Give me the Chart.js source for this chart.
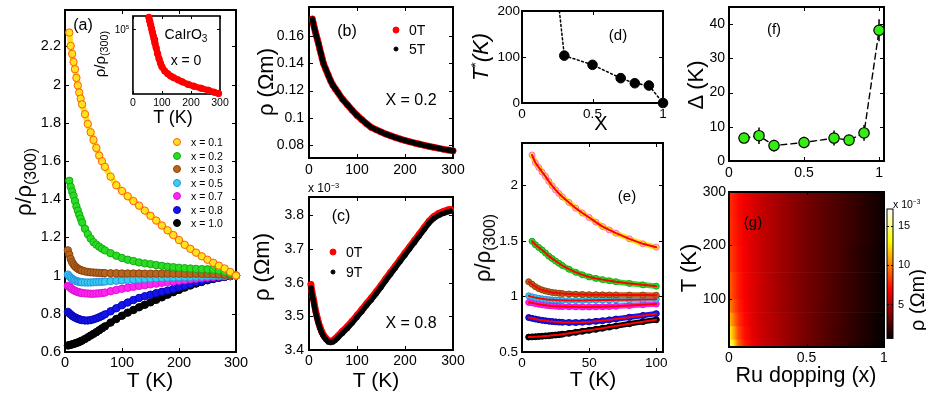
<!DOCTYPE html>
<html>
<head>
<meta charset="utf-8">
<script src="https://cdn.jsdelivr.net/npm/chart.js@4.4.1/dist/chart.umd.min.js"></script>
<style>
  body { margin:0; background:#fff; width:926px; height:394px; position:relative; overflow:hidden;
         font-family:"Liberation Sans", Arial, sans-serif; color:#000; }
  canvas { position:absolute; }
  .t { position:absolute; white-space:nowrap; line-height:1; transform:translate(-50%,-50%); }
  .t.l { transform:translate(0,-50%); }
  .t.r { transform:translate(-50%,-50%) rotate(-90deg); }
  .t sub { font-size:72%; vertical-align:-0.32em; line-height:0; }
  .t sup { font-size:62%; vertical-align:0.6em; line-height:0; }
  .dot { position:absolute; border-radius:50%; box-sizing:border-box; transform:translate(-50%,-50%); }
</style>
</head>
<body>
<script>
const FONT = '"Liberation Sans", Arial, sans-serif';

// (a) normalised resistivity rho/rho(300) vs T
const tempA = [5, 7.5, 10, 12.5, 15, 17.5, 20, 22.5, 25, 27.5, 30, 35, 40, 45, 50, 55, 60, 65, 70,
  80, 90, 100, 110, 120, 130, 140, 150, 160, 170, 180, 190, 200, 210, 220, 230, 240, 250, 260, 270, 280, 290, 300];
const rhoX01 = [null, 2.272, 2.202, 2.16, 2.118, 2.08, 2.035, 1.995, 1.958, 1.926, 1.896, 1.845, 1.794, 1.75, 1.71, 1.668, 1.628, 1.598, 1.569,
  1.518, 1.473, 1.443, 1.415, 1.39, 1.366, 1.34, 1.313, 1.288, 1.262, 1.237, 1.212, 1.186, 1.161, 1.14, 1.12, 1.101, 1.083, 1.067, 1.052, 1.037, 1.019, 1.0];
const rhoX02 = [null, 1.496, 1.465, 1.44, 1.418, 1.39, 1.362, 1.34, 1.318, 1.298, 1.278, 1.245, 1.217, 1.194, 1.175, 1.162, 1.151, 1.141, 1.132,
  1.117, 1.104, 1.092, 1.083, 1.076, 1.069, 1.064, 1.06, 1.055, 1.051, 1.047, 1.044, 1.041, 1.039, 1.037, 1.035, 1.034, 1.033, 1.031, 1.027, 1.02, 1.011, 1.0];
const rhoX03 = [1.132, 1.11, 1.087, 1.07, 1.058, 1.049, 1.042, 1.036, 1.032, 1.029, 1.026, 1.022, 1.019, 1.017, 1.016, 1.015, 1.014, 1.013, 1.013,
  1.012, 1.012, 1.011, 1.011, 1.011, 1.011, 1.01, 1.01, 1.01, 1.01, 1.01, 1.01, 1.01, 1.009, 1.009, 1.009, 1.008, 1.008, 1.007, 1.006, 1.004, 1.002, 1.0];
const rhoX05 = [1.005, 0.996, 0.989, 0.983, 0.978, 0.974, 0.971, 0.969, 0.967, 0.966, 0.965, 0.964, 0.964, 0.964, 0.965, 0.966, 0.967, 0.968, 0.969,
  0.971, 0.973, 0.975, 0.977, 0.979, 0.981, 0.983, 0.985, 0.986, 0.988, 0.989, 0.99, 0.991, 0.992, 0.993, 0.994, 0.995, 0.996, 0.997, 0.998, 0.999, 1.0, 1.0];
const rhoX07 = [0.946, 0.942, 0.935, 0.929, 0.924, 0.92, 0.917, 0.914, 0.912, 0.91, 0.909, 0.907, 0.906, 0.905, 0.905, 0.906, 0.907, 0.909, 0.911,
  0.918, 0.925, 0.931, 0.936, 0.941, 0.946, 0.95, 0.954, 0.958, 0.962, 0.966, 0.969, 0.973, 0.977, 0.981, 0.984, 0.987, 0.99, 0.993, 0.995, 0.997, 0.999, 1.0];
const rhoX08 = [0.81, 0.803, 0.796, 0.79, 0.785, 0.781, 0.777, 0.774, 0.771, 0.769, 0.767, 0.765, 0.765, 0.767, 0.771, 0.776, 0.782, 0.789, 0.797,
  0.813, 0.829, 0.845, 0.859, 0.872, 0.883, 0.892, 0.9, 0.908, 0.915, 0.922, 0.93, 0.938, 0.947, 0.956, 0.965, 0.972, 0.979, 0.985, 0.99, 0.994, 0.997, 1.0];
const rhoX10 = [0.634, 0.636, 0.638, 0.64, 0.642, 0.645, 0.647, 0.65, 0.653, 0.656, 0.66, 0.668, 0.677, 0.686, 0.695, 0.704, 0.714, 0.724, 0.734,
  0.754, 0.773, 0.79, 0.806, 0.82, 0.834, 0.847, 0.86, 0.873, 0.886, 0.9, 0.913, 0.925, 0.937, 0.948, 0.958, 0.967, 0.975, 0.982, 0.988, 0.993, 0.997, 1.0];

// inset: CaIrO3 (x = 0), log scale
const tempIn = [55, 58, 61, 64, 67, 70, 73, 76, 80, 85, 90, 95, 100, 110, 120, 130, 140, 156, 170, 190, 210, 235, 260, 280, 295];
const rhoIn = [2.8e5, 2.0e5, 1.45e5, 1.05e5, 7.6e4, 5.5e4, 4.0e4, 2.8e4, 1.9e4, 1.12e4, 7.1e3, 4.8e3, 3.5e3,
  2.4e3, 1.9e3, 1.55e3, 1.35e3, 1.1e3, 930, 740, 630, 525, 440, 370, 330];

// (b) x = 0.2, rho in Ohm m
const tempB = [7, 9, 11, 13, 15, 17.5, 20, 22.5, 25, 27.5, 30, 35, 40, 45, 50, 55, 60,
  70, 80, 90, 100, 110, 120, 130, 140, 150, 160, 170, 180, 190, 200, 210, 220, 230, 240, 250, 260, 270, 280, 290, 300];
const rhoB0T = [0.1722, 0.169, 0.166, 0.1631, 0.1604, 0.1572, 0.1541, 0.1503, 0.1469, 0.1434, 0.1399, 0.1355, 0.1313, 0.1272, 0.1238, 0.1212, 0.1187,
  0.1136, 0.1096, 0.1057, 0.1019, 0.0988, 0.0958, 0.0931, 0.0914, 0.0898, 0.0883, 0.087, 0.0858, 0.0846, 0.0836, 0.0826, 0.0817, 0.0809, 0.0801, 0.0793, 0.0786, 0.0779, 0.0772, 0.0766, 0.076];
const rhoB5T = [0.1722, 0.169, 0.166, 0.1631, 0.1604, 0.1572, 0.1541, 0.1503, 0.1469, 0.1434, 0.1399, 0.1355, 0.1313, 0.1272, 0.1238, 0.1212, 0.1187,
  0.1136, 0.1096, 0.1057, 0.1019, 0.0988, 0.0958, 0.0931, 0.0914, 0.0898, 0.0883, 0.087, 0.0858, 0.0846, 0.0836, 0.0826, 0.0817, 0.0809, 0.0801, 0.0793, 0.0786, 0.0779, 0.0772, 0.0766, 0.076];

// (c) x = 0.8, rho in 1e-3 Ohm m
const tempC = [4, 6, 8, 10, 12, 14, 16, 18, 20, 23, 26, 30, 35, 40, 45, 50, 55, 60,
  70, 80, 90, 100, 110, 120, 130, 140, 150, 160, 170, 180, 190, 200, 210, 220, 230, 240, 250, 260, 270, 280, 290, 295];
const rhoC0T = [3.595, 3.575, 3.56, 3.547, 3.53, 3.515, 3.503, 3.492, 3.481, 3.468, 3.456, 3.445, 3.435, 3.428, 3.426, 3.428, 3.434, 3.441,
  3.456, 3.47, 3.486, 3.503, 3.52, 3.538, 3.555, 3.573, 3.592, 3.612, 3.631, 3.65, 3.669, 3.688, 3.707, 3.726, 3.745, 3.764, 3.783, 3.797, 3.806, 3.812, 3.817, 3.818];
const rhoC9T = [3.585, 3.567, 3.553, 3.54, 3.524, 3.51, 3.498, 3.487, 3.477, 3.464, 3.452, 3.441, 3.431, 3.424, 3.422, 3.424, 3.429, 3.436,
  3.45, 3.464, 3.48, 3.497, 3.514, 3.532, 3.549, 3.567, 3.586, 3.606, 3.625, 3.644, 3.663, 3.682, 3.701, 3.72, 3.739, 3.758, 3.777, 3.791, 3.8, 3.806, 3.811, 3.813];

// (d) T* vs doping
const dopD = [0.3, 0.5, 0.7, 0.8, 0.9, 1.0];
const tStarD = [103, 83, 54, 43, 38, 0];
const guideDx = [0.265];   // dotted guide leaves the frame at the top
const guideDy = [200];

// (e) low-T part of (a), T <= 100 K
const tMaxE = 100;

// (f) gap vs doping
const dopF = [0.1, 0.2, 0.3, 0.5, 0.7, 0.8, 0.9, 1.0];
const gapF = [6.7, 7.4, 4.5, 5.4, 6.7, 6.1, 8.2, 38.2];
const gapErrF = [1.4, 2.4, 1.7, 1.7, 2.2, 1.6, 2.3, 3.2];

// (g) rho map, 1e-3 Ohm m: doping nodes x temperature bands
const dopG = [0, 0.03, 0.06, 0.1, 0.15, 0.2, 0.3, 0.4, 0.5, 0.6, 0.7, 0.8, 0.9, 1.0];
const tempG = [10, 25, 50, 75, 100, 150, 200, 250, 300];
const rhoG = [
  [15.5, 12.5, 9.3, 7.5, 6.5, 5.8, 5.0, 4.2, 3.5, 2.9, 2.3, 1.7, 1.2, 0.7],
  [13.3, 11.0, 8.6, 7.2, 6.3, 5.7, 4.9, 4.2, 3.5, 2.9, 2.3, 1.8, 1.3, 0.8],
  [11.6, 9.8, 8.1, 7.0, 6.2, 5.6, 4.9, 4.2, 3.5, 2.9, 2.4, 1.8, 1.3, 0.8],
  [10.3, 8.9, 7.7, 6.8, 6.1, 5.6, 4.8, 4.1, 3.5, 2.9, 2.4, 1.9, 1.4, 0.9],
  [9.3, 8.3, 7.4, 6.7, 6.1, 5.6, 4.8, 4.1, 3.5, 3.0, 2.4, 1.9, 1.4, 0.9],
  [8.6, 7.9, 7.2, 6.6, 6.0, 5.5, 4.8, 4.1, 3.5, 3.0, 2.5, 1.9, 1.4, 0.9],
  [8.2, 7.6, 7.1, 6.5, 6.0, 5.5, 4.8, 4.1, 3.5, 3.0, 2.5, 2.0, 1.5, 1.0],
  [8.0, 7.5, 7.0, 6.5, 6.0, 5.5, 4.8, 4.1, 3.5, 3.0, 2.5, 2.0, 1.5, 1.0]
];
const cbarRange = [0.7, 17.1];

// tick labels
const tickAx = [0, 100, 200, 300];
const tickAy = [0.6, 0.8, 1, 1.2, 1.4, 1.6, 1.8, 2, 2.2];
const tickInX = [0, 100, 200, 300];
const tickInY = [1e5];
const tickBy = [0.08, 0.1, 0.12, 0.14, 0.16];
const tickCy = [3.4, 3.5, 3.6, 3.7, 3.8];
const tickDx = [0, 0.5, 1];
const tickDy = [0, 100, 200];
const tickEx = [0, 50, 100];
const tickEy = [0.5, 1, 1.5, 2];
const tickFx = [0, 0.5, 1];
const tickFy = [0, 10, 20, 30, 40];
const tickGx = [0, 0.5, 1];
const tickGy = [100, 200, 300];
const tickCbar = [5, 10, 15];

// ---------- helpers ----------
function hot(v) {
  const t = Math.min(1, Math.max(0, (v - cbarRange[0]) / (cbarRange[1] - cbarRange[0])));
  const c = u => Math.round(255 * Math.min(1, Math.max(0, u)));
  return 'rgb(' + c(t / 0.375) + ',' + c((t - 0.375) / 0.375) + ',' + c((t - 0.75) / 0.25) + ')';
}

function axis(pos, min, max, vals, size, pad, type) {
  return {
    type: type || 'linear', position: pos, min: min, max: max,
    grid: { display: false, drawTicks: false }, border: { display: false },
    afterBuildTicks: s => { s.ticks = vals.map(v => ({ value: v })); },
    ticks: { autoSkip: false, maxRotation: 0, padding: pad, color: '#000',
             font: { family: FONT, size: size }, callback: v => String(v) }
  };
}

function pts(xs, ys, fill, edge, r, bw) {
  return { data: xs.map((x, i) => ({ x: x, y: ys[i] })), showLine: false, pointRadius: r,
           pointBackgroundColor: fill, pointBorderColor: edge, pointBorderWidth: bw === undefined ? 1 : bw, clip: false };
}
function line(xs, ys, color, w, dash) {
  return { data: xs.map((x, i) => ({ x: x, y: ys[i] })), showLine: true, pointRadius: 0,
           borderColor: color, borderWidth: w, borderDash: dash || [], clip: false, spanGaps: true,
           borderJoinStyle: 'round', borderCapStyle: 'round' };
}

function frame(lw, tl) {
  return {
    id: 'frame',
    beforeDatasetsDraw(chart) {
      const ctx = chart.ctx, a = chart.chartArea;
      ctx.save();
      ctx.strokeStyle = '#000';
      ctx.lineWidth = 1;
      ctx.beginPath();
      ['x', 'y'].forEach(id => {
        const s = chart.scales[id];
        if (!s || s.options.display === false) return;
        s.ticks.forEach(t => {
          const p = Math.round(s.getPixelForValue(t.value)) + 0.5;
          if (s.isHorizontal()) {
            ctx.moveTo(p, a.bottom); ctx.lineTo(p, a.bottom - tl);
            ctx.moveTo(p, a.top); ctx.lineTo(p, a.top + tl);
          } else {
            ctx.moveTo(a.left, p); ctx.lineTo(a.left + tl, p);
            ctx.moveTo(a.right, p); ctx.lineTo(a.right - tl, p);
          }
        });
      });
      ctx.stroke();
      ctx.lineWidth = lw;
      ctx.strokeRect(a.left, a.top, a.width, a.height);
      ctx.restore();
    }
  };
}

// box = plot area on the page; ext = room for ticks/labels on the left, top, right, bottom
function panel(box, ext, xAxis, yAxis, datasets, plugins) {
  const [x0, y0, x1, y1] = box, [l, t, r, b] = ext;
  const W = x1 - x0 + l + r, H = y1 - y0 + t + b;
  const cv = document.createElement('canvas');
  cv.width = W; cv.height = H;
  cv.style.left = (x0 - l) + 'px'; cv.style.top = (y0 - t) + 'px';
  cv.style.width = W + 'px'; cv.style.height = H + 'px';
  document.body.appendChild(cv);
  const yRight = yAxis.position === 'right';
  const xShown = xAxis.display !== false;
  xAxis.afterFit = s => { s.height = xShown ? b : 0; };
  yAxis.afterFit = s => { s.width = yRight ? r : l; };
  return new Chart(cv, {
    type: 'scatter',
    data: { datasets: datasets },
    options: {
      responsive: false, animation: false, devicePixelRatio: 1, events: [],
      layout: { padding: { left: yRight ? l : 0, right: yRight ? 0 : r, top: t, bottom: xShown ? 0 : b } },
      plugins: { legend: { display: false }, tooltip: { enabled: false } },
      scales: { x: xAxis, y: yAxis }
    },
    plugins: plugins
  });
}

function label(cx, cy, html, size, cls) {
  const d = document.createElement('div');
  d.className = 't' + (cls ? ' ' + cls : '');
  d.style.left = cx + 'px'; d.style.top = cy + 'px'; d.style.fontSize = size + 'px';
  d.innerHTML = html;
  document.body.appendChild(d);
}
function dot(cx, cy, d, fill, edge) {
  const s = document.createElement('span');
  s.className = 'dot';
  s.style.cssText += 'left:' + cx + 'px;top:' + cy + 'px;width:' + d + 'px;height:' + d + 'px;background:' + fill + ';border:1px solid ' + edge;
  document.body.appendChild(s);
}

// series styling for (a) and (e): [name, values, fill, edge, edge in (e)]
const seriesA = [
  ['x = 0.1', rhoX01, '#ffe41c', '#ff5b14', '#ff66cc'],
  ['x = 0.2', rhoX02, '#2bdd22', '#17a817', '#17a817'],
  ['x = 0.3', rhoX03, '#b8651e', '#8a4510', '#8a4510'],
  ['x = 0.5', rhoX05, '#35d0f0', '#2a90e0', '#2a90e0'],
  ['x = 0.7', rhoX07, '#ff26ee', '#e010d8', '#e010d8'],
  ['x = 0.8', rhoX08, '#1414f0', '#0808b0', '#0808b0'],
  ['x = 1.0', rhoX10, '#000000', '#000000', '#000000']
];

// ---------- (a) ----------
// markers on top, a band of the fill colour under them (the measured points are very dense)
panel([65, 10, 236, 352], [50, 14, 22, 26],
  axis('bottom', 0, 300, tickAx, 14.5, 2),
  axis('left', 0.6, 2.39, tickAy, 14.5, 4),
  seriesA.map(s => pts(tempA, s[1], s[2], s[3], 3.7))
    .concat(seriesA.map(s => line(tempA, s[1], s[2], 6))),
  [frame(2, 4)]);

// inset
const insetY = axis('left', 316, 316228, tickInY, 10, 2, 'logarithmic');
insetY.ticks.callback = () => '';
panel([131, 16, 220, 94], [4, 14, 14, 18],
  axis('bottom', 0, 300, tickInX, 10.5, 3),
  insetY,
  [pts(tempIn, rhoIn, '#ff0000', '#ff0000', 3.2), line(tempIn, rhoIn, '#ff0000', 6.4)],
  [frame(1.6, 3)]);

// ---------- (b) ----------
panel([309, 7, 453, 158], [45, 14, 22, 24],
  axis('bottom', 0, 300, tickAx, 14, 4),
  axis('left', 0.0708, 0.181, tickBy, 14, 5),
  [pts(tempB, rhoB5T, '#000000', '#000000', 2.6, 0), line(tempB, rhoB5T, '#000000', 5.2),
   pts(tempB, rhoB0T, '#ff0000', '#ff0000', 3.3, 0), line(tempB, rhoB0T, '#ff0000', 6.8)],
  [frame(2, 4)]);

// ---------- (c) ----------
panel([309, 197, 453, 350], [45, 14, 22, 24],
  axis('bottom', 0, 300, tickAx, 14, 3),
  axis('left', 3.4, 3.855, tickCy, 14, 5),
  [pts(tempC, rhoC9T, '#000000', '#000000', 2.6, 0), line(tempC, rhoC9T, '#000000', 5.2),
   pts(tempC, rhoC0T, '#ff0000', '#ff0000', 3.3, 0), line(tempC, rhoC0T, '#ff0000', 6.8)],
  [frame(2, 4)]);

// ---------- (d) ----------
panel([522, 11, 663, 103], [40, 14, 20, 22],
  axis('bottom', 0, 1, tickDx, 13.5, 3),
  axis('left', 0, 200, tickDy, 13.5, 2),
  [pts(dopD, tStarD, '#000000', '#000000', 4.8),
   line(guideDx.concat(dopD), guideDy.concat(tStarD), '#000000', 1.5, [2, 2.5])],
  [frame(2, 4)]);

// ---------- (e) ----------
const tempE = tempA.filter(t => t <= tMaxE);
panel([522, 143, 663, 352], [40, 14, 20, 24],
  axis('bottom', 0, 105, tickEx, 13.5, 3),
  axis('left', 0.5, 2.38, tickEy, 13.5, 4),
  seriesA.map(s => line(tempE, s[1].slice(0, tempE.length), '#ff0000', 2))
    .concat(seriesA.map(s => pts(tempE, s[1].slice(0, tempE.length), s[2], s[4], 3)))
    .concat(seriesA.map(s => line(tempE, s[1].slice(0, tempE.length), s[2], 5.5))),
  [frame(2, 4)]);

// ---------- (f) ----------
const errBars = {
  id: 'errBars',
  beforeDatasetsDraw(chart) {
    const ctx = chart.ctx, x = chart.scales.x, y = chart.scales.y;
    ctx.save();
    ctx.strokeStyle = '#000'; ctx.lineWidth = 1.5;
    ctx.beginPath();
    dopF.forEach((d, i) => {
      const px = x.getPixelForValue(d);
      ctx.moveTo(px, y.getPixelForValue(gapF[i] - gapErrF[i]));
      ctx.lineTo(px, y.getPixelForValue(gapF[i] + gapErrF[i]));
    });
    ctx.stroke();
    ctx.restore();
  }
};
panel([729, 7, 884, 161], [36, 14, 20, 22],
  axis('bottom', 0, 1.033, tickFx, 14, 4),
  axis('left', 0, 45, tickFy, 14, 4),
  [pts(dopF, gapF, '#33ee11', '#000000', 5.2, 1.2),
   line(dopF, gapF, '#000000', 1.4, [6, 4])],
  [frame(2, 4), errBars]);

// ---------- (g) ----------
const heat = {
  id: 'heat',
  beforeDatasetsDraw(chart) {
    const ctx = chart.ctx, x = chart.scales.x, y = chart.scales.y;
    const xa = x.getPixelForValue(dopG[0]), xb = x.getPixelForValue(dopG[dopG.length - 1]);
    rhoG.forEach((row, k) => {
      const g = ctx.createLinearGradient(xa, 0, xb, 0);
      row.forEach((v, i) => g.addColorStop((x.getPixelForValue(dopG[i]) - xa) / (xb - xa), hot(v)));
      const top = y.getPixelForValue(tempG[k + 1]), bot = y.getPixelForValue(tempG[k]);
      ctx.fillStyle = g;
      ctx.fillRect(xa, top, xb - xa, bot - top + 0.6);
    });
  }
};
panel([729, 192, 884, 347], [36, 14, 10, 24],
  axis('bottom', 0, 1, tickGx, 14, 3),
  axis('left', 10, 300, tickGy, 14, 3),
  [], [heat, frame(2, 3)]);

// colorbar
const cbar = {
  id: 'cbar',
  beforeDatasetsDraw(chart) {
    const ctx = chart.ctx, a = chart.chartArea, y = chart.scales.y;
    const g = ctx.createLinearGradient(0, y.getPixelForValue(cbarRange[0]), 0, y.getPixelForValue(cbarRange[1]));
    [[0, '#000000'], [0.375, '#ff0000'], [0.75, '#ffff00'], [1, '#ffffff']].forEach(s => g.addColorStop(s[0], s[1]));
    ctx.fillStyle = g;
    ctx.fillRect(a.left, a.top, a.width, a.height);
  }
};
const cbX = axis('bottom', 0, 1, [], 10, 0);
cbX.display = false;
panel([887, 209, 893, 340], [2, 14, 30, 10],
  cbX,
  axis('right', cbarRange[0], cbarRange[1], tickCbar, 11, 5),
  [], [cbar, frame(1, 2)]);

// ---------- texts ----------
label(83, 25, '(a)', 16);
label(24, 182, 'ρ/ρ<sub>(300)</sub>', 22, 'r');
label(150, 379, 'T (K)', 21);
const legendRows = [142, 155.5, 169, 182.5, 196, 209.5, 223];
seriesA.forEach((s, i) => { dot(177, legendRows[i], 8, s[2], s[3]); label(191, legendRows[i], s[0], 10.5, 'l'); });
label(99, 54, 'ρ/ρ<sub>(300)</sub>', 15, 'r');
label(173, 117, 'T (K)', 18);
label(186, 34, 'CaIrO<sub>3</sub>', 14);
label(186, 60, 'x = 0', 14);
label(122, 30, '10<sup>5</sup>', 10);

label(347, 31, '(b)', 16);
dot(396, 30, 7, '#ff0000', '#ff0000'); label(409, 30, '0T', 14, 'l');
dot(396, 49, 5, '#000000', '#000000'); label(409, 49, '5T', 14, 'l');
label(411, 100, 'X = 0.2', 16);
label(266, 82, 'ρ (Ωm)', 22, 'r');

label(341, 216, '(c)', 16);
dot(333, 252, 7, '#ff0000', '#ff0000'); label(346, 252, '0T', 14, 'l');
dot(333, 272, 5, '#000000', '#000000'); label(346, 272, '9T', 14, 'l');
label(411, 323, 'X = 0.8', 16);
label(262, 267, 'ρ (Ωm)', 22, 'r');
label(376, 379, 'T (K)', 21);
label(308, 188, 'x 10<sup>−3</sup>', 12, 'l');

label(618, 34, '(d)', 15);
label(481, 57, '<i>T</i><sup>*</sup><i>(K)</i>', 22, 'r');
label(601, 123, 'X', 20);

label(627, 195, '(e)', 15);
label(483, 248, 'ρ/ρ<sub>(300)</sub>', 22, 'r');
label(593, 378, 'T (K)', 21);

label(774, 28, '(f)', 15);
label(696, 85, 'Δ (K)', 22, 'r');

label(753, 221, '(g)', 15);
label(689, 268, 'T (K)', 22, 'r');
label(806, 376, 'Ru dopping (x)', 21.5);
label(917, 300, 'ρ (Ωm)', 20, 'r');
label(893, 204, 'x 10<sup>−3</sup>', 10.5, 'l');
</script>
</body>
</html>
